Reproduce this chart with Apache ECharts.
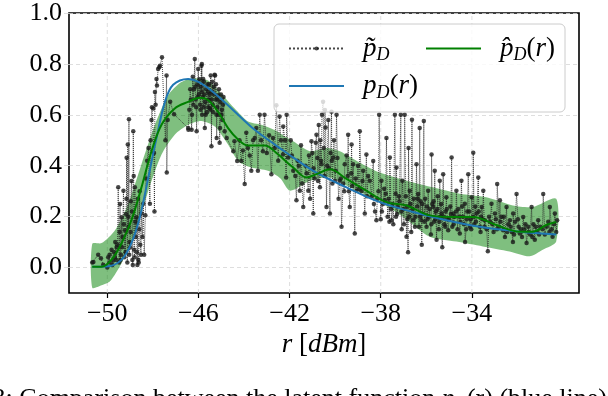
<!DOCTYPE html>
<html>
<head>
<meta charset="utf-8">
<script src="https://cdn.jsdelivr.net/npm/echarts@6/dist/echarts.min.js"></script>
<style>
  html, body { margin: 0; padding: 0; background: #fff; }
  #chart { width: 608px; height: 396px; }
</style>
</head>
<body>
<div id="chart"></div>
<script>
const SERIF = 'Liberation Serif';

// tick values
const xTicks = [-50, -46, -42, -38, -34];
const yTicks = [0, 0.2, 0.4, 0.6, 0.8, 1.0];

// noisy estimate p~_D ([r, value])
const ptsRise = [
  [-50.66, 0.02], [-50.61, 0.022], [-50.4, 0.05], [-50.28, 0.037], [-50.18, 0.011], [-50.0, 0.0],
  [-49.96, 0.04], [-49.9, 0.02], [-49.81, 0.07], [-49.74, 0.028], [-49.7, 0.06], [-49.65, 0.1],
  [-49.6, 0.03], [-49.55, 0.09], [-49.52, 0.315], [-49.48, 0.02], [-49.44, 0.25], [-49.4, 0.05],
  [-49.37, 0.198], [-49.33, 0.12], [-49.29, 0.302], [-49.25, 0.04], [-49.22, 0.147], [-49.18, 0.21],
  [-49.15, 0.431], [-49.12, 0.02], [-49.1, 0.483], [-49.07, 0.16], [-49.05, 0.583], [-49.02, 0.1],
  [-49.0, 0.079], [-48.97, 0.26], [-48.94, 0.34], [-48.9, 0.03], [-48.86, 0.535], [-48.82, 0.07],
  [-48.79, 0.315], [-48.75, 0.12], [-48.72, 0.198], [-48.68, 0.01], [-48.64, 0.031], [-48.6, 0.15],
  [-48.55, 0.09], [-48.5, 0.212], [-48.46, 0.12], [-48.42, 0.251], [-48.38, 0.05], [-48.33, 0.205],
  [-48.3, 0.35], [-48.25, 0.42], [-48.19, 0.47], [-48.13, 0.251], [-48.1, 0.5], [-48.06, 0.58],
  [-48.04, 0.63], [-47.98, 0.625], [-47.95, 0.45], [-47.93, 0.22], [-47.91, 0.69], [-47.88, 0.64],
  [-47.84, 0.741], [-47.82, 0.715], [-47.77, 0.78], [-47.72, 0.787], [-47.69, 0.793], [-47.6, 0.826],
  [-47.45, 0.5], [-47.4, 0.754], [-47.39, 0.373], [-47.35, 0.58], [-47.24, 0.651], [-47.07, 0.602]
];

const ptsPeak = [
  [-46.45, 0.548], [-46.44, 0.541], [-46.36, 0.7], [-46.3, 0.541], [-46.28, 0.6], [-46.25, 0.75],
  [-46.2, 0.7], [-46.16, 0.819], [-46.12, 0.66], [-46.08, 0.535], [-46.05, 0.72], [-46.01, 0.78],
  [-45.98, 0.68], [-45.93, 0.64], [-45.9, 0.71], [-45.87, 0.793], [-45.85, 0.8], [-45.84, 0.6],
  [-45.81, 0.67], [-45.79, 0.741], [-45.76, 0.73], [-45.72, 0.548], [-45.7, 0.65], [-45.66, 0.7],
  [-45.62, 0.61], [-45.58, 0.69], [-45.55, 0.66], [-45.53, 0.72], [-45.5, 0.625], [-45.47, 0.62],
  [-45.46, 0.754], [-45.43, 0.477], [-45.41, 0.69], [-45.37, 0.64], [-45.33, 0.71], [-45.29, 0.757],
  [-45.27, 0.754], [-45.25, 0.66], [-45.21, 0.6], [-45.2, 0.509], [-45.18, 0.63], [-45.14, 0.677],
  [-45.1, 0.7], [-45.07, 0.49], [-45.05, 0.548], [-45.03, 0.65], [-44.99, 0.6], [-44.95, 0.58],
  [-44.9, 0.67], [-44.85, 0.535], [-44.76, 0.509], [-44.47, 0.457], [-44.42, 0.496], [-44.3, 0.419],
  [-44.2, 0.5], [-44.12, 0.419], [-44.05, 0.46], [-43.97, 0.328], [-43.9, 0.53], [-43.83, 0.47],
  [-43.75, 0.44], [-43.68, 0.38], [-43.6, 0.5], [-43.53, 0.509], [-43.46, 0.548], [-43.39, 0.38],
  [-43.31, 0.6], [-43.25, 0.5], [-43.17, 0.457], [-43.1, 0.6], [-43.0, 0.45], [-42.9, 0.52],
  [-42.8, 0.367], [-42.73, 0.509], [-42.65, 0.47], [-42.58, 0.638], [-42.5, 0.42], [-42.44, 0.593],
  [-42.38, 0.5]
];

const ptsMid = [
  [-42.29, 0.444], [-42.28, 0.554], [-42.2, 0.5], [-42.15, 0.354], [-42.13, 0.6], [-42.06, 0.432],
  [-41.95, 0.5], [-41.84, 0.38], [-41.7, 0.264], [-41.65, 0.42], [-41.55, 0.302], [-41.5, 0.48],
  [-41.4, 0.238], [-41.3, 0.4], [-41.18, 0.302], [-41.1, 0.27], [-41.04, 0.496], [-41.0, 0.45],
  [-40.96, 0.212], [-40.9, 0.35], [-40.85, 0.49], [-40.82, 0.522], [-40.78, 0.43], [-40.72, 0.56],
  [-40.67, 0.315], [-40.65, 0.5], [-40.6, 0.406], [-40.58, 0.6], [-40.53, 0.651], [-40.5, 0.47],
  [-40.45, 0.619], [-40.42, 0.55], [-40.38, 0.238], [-40.35, 0.4], [-40.3, 0.58], [-40.23, 0.212],
  [-40.2, 0.45], [-40.16, 0.612], [-40.12, 0.33], [-40.09, 0.432], [-40.05, 0.5], [-40.01, 0.341],
  [-39.94, 0.6], [-39.9, 0.43], [-39.85, 0.27], [-39.8, 0.341], [-39.72, 0.16], [-39.65, 0.33],
  [-39.58, 0.406], [-39.5, 0.44], [-39.43, 0.522], [-39.4, 0.3], [-39.36, 0.238], [-39.3, 0.37],
  [-39.28, 0.483], [-39.21, 0.406], [-39.14, 0.134], [-39.06, 0.302], [-39.0, 0.4], [-38.92, 0.535],
  [-38.85, 0.3], [-38.77, 0.38], [-38.7, 0.212], [-38.63, 0.444], [-38.55, 0.36], [-38.48, 0.341]
];

const ptsTail = [
  [-38.4, 0.28], [-38.33, 0.419], [-38.25, 0.22], [-38.19, 0.186], [-38.1, 0.3], [-38.07, 0.6],
  [-38.0, 0.19], [-37.97, 0.341], [-37.9, 0.25], [-37.85, 0.31], [-37.82, 0.264], [-37.75, 0.509],
  [-37.7, 0.2], [-37.65, 0.27], [-37.6, 0.432], [-37.55, 0.23], [-37.53, 0.186], [-37.45, 0.17],
  [-37.38, 0.6], [-37.35, 0.29], [-37.31, 0.393], [-37.28, 0.21], [-37.24, 0.238], [-37.18, 0.26],
  [-37.12, 0.6], [-37.08, 0.15], [-37.05, 0.341], [-37.0, 0.23], [-36.95, 0.6], [-36.9, 0.28],
  [-36.87, 0.121], [-36.83, 0.19], [-36.8, 0.06], [-36.78, 0.47], [-36.73, 0.302], [-36.7, 0.25],
  [-36.66, 0.14], [-36.63, 0.581], [-36.58, 0.186], [-36.55, 0.27], [-36.47, 0.2], [-36.43, 0.406],
  [-36.4, 0.24], [-36.36, 0.289], [-36.32, 0.16], [-36.29, 0.548], [-36.25, 0.26], [-36.21, 0.186],
  [-36.2, 0.09], [-36.15, 0.21], [-36.11, 0.576], [-36.05, 0.27], [-35.99, 0.16], [-35.95, 0.19],
  [-35.92, 0.302], [-35.85, 0.23], [-35.8, 0.13], [-35.77, 0.444], [-35.74, 0.25], [-35.7, 0.238],
  [-35.66, 0.18], [-35.63, 0.38], [-35.58, 0.22], [-35.55, 0.109], [-35.5, 0.28], [-35.45, 0.15],
  [-35.41, 0.341], [-35.37, 0.2], [-35.33, 0.212], [-35.3, 0.08], [-35.26, 0.367], [-35.2, 0.17],
  [-35.15, 0.22], [-35.12, 0.276], [-35.08, 0.19], [-35.04, 0.147], [-34.95, 0.24], [-34.89, 0.432],
  [-34.86, 0.16], [-34.82, 0.212], [-34.75, 0.2], [-34.68, 0.302], [-34.6, 0.23], [-34.53, 0.134],
  [-34.5, 0.18], [-34.46, 0.341], [-34.4, 0.2], [-34.31, 0.251], [-34.3, 0.1], [-34.25, 0.15],
  [-34.2, 0.22], [-34.16, 0.367], [-34.09, 0.16], [-34.05, 0.19], [-34.01, 0.276], [-33.94, 0.451],
  [-33.9, 0.17], [-33.85, 0.24], [-33.79, 0.212], [-33.72, 0.354], [-33.65, 0.16], [-33.6, 0.2],
  [-33.57, 0.238], [-33.5, 0.302], [-33.43, 0.186], [-33.35, 0.15], [-33.3, 0.064], [-33.2, 0.18],
  [-33.14, 0.251], [-33.05, 0.14], [-32.99, 0.212], [-32.95, 0.19], [-32.89, 0.328], [-32.8, 0.16],
  [-32.77, 0.264], [-32.7, 0.2], [-32.63, 0.147], [-32.55, 0.12], [-32.48, 0.238], [-32.4, 0.17],
  [-32.33, 0.186], [-32.25, 0.14], [-32.2, 0.1], [-32.19, 0.212], [-32.1, 0.18], [-32.04, 0.289],
  [-31.95, 0.16], [-31.9, 0.134], [-31.8, 0.12], [-31.75, 0.199], [-31.7, 0.15], [-31.6, 0.096],
  [-31.53, 0.16], [-31.45, 0.13], [-31.38, 0.238], [-31.3, 0.17], [-31.24, 0.109], [-31.15, 0.14],
  [-31.09, 0.186], [-31.0, 0.16], [-30.87, 0.289], [-30.8, 0.13], [-30.72, 0.16], [-30.65, 0.18],
  [-30.58, 0.238], [-30.5, 0.15], [-30.46, 0.121], [-30.36, 0.212], [-30.3, 0.14], [-30.26, 0.186]
];

// the darker, denser parts of the cloud
const ptsDense = [
  [-49.9, 0.05], [-49.78, 0.01], [-49.68, 0.04], [-49.58, 0.08], [-49.46, 0.14], [-49.42, 0.03],
  [-49.35, 0.08], [-49.27, 0.17], [-49.2, 0.06], [-49.16, 0.27], [-49.08, 0.2], [-49.04, 0.05],
  [-48.98, 0.14], [-48.92, 0.22], [-48.88, 0.01], [-48.84, 0.36], [-48.8, 0.04], [-48.77, 0.18],
  [-48.7, 0.06], [-48.66, 0.27], [-48.62, 0.02], [-48.58, 0.3], [-48.52, 0.05],
  [-46.4, 0.62], [-46.33, 0.66], [-46.22, 0.64], [-46.14, 0.71], [-46.1, 0.63], [-46.03, 0.67],
  [-45.96, 0.74], [-45.91, 0.62], [-45.86, 0.69], [-45.78, 0.63], [-45.74, 0.68], [-45.68, 0.6],
  [-45.6, 0.72], [-45.56, 0.63], [-45.51, 0.68], [-45.44, 0.66], [-45.39, 0.73], [-45.35, 0.61],
  [-45.31, 0.68], [-45.23, 0.72], [-45.16, 0.66], [-45.12, 0.6], [-45.01, 0.68], [-44.97, 0.62],
  [-44.92, 0.64],
  [-41.9, 0.44], [-41.75, 0.36], [-41.6, 0.4], [-41.45, 0.33], [-41.25, 0.37], [-41.15, 0.44],
  [-40.95, 0.39], [-40.75, 0.34], [-40.62, 0.42], [-40.47, 0.36], [-40.27, 0.39], [-40.15, 0.42],
  [-39.98, 0.38], [-39.75, 0.35], [-39.6, 0.3], [-39.45, 0.36], [-39.25, 0.32], [-39.1, 0.35],
  [-38.95, 0.31], [-38.8, 0.34], [-38.6, 0.28],
  [-38.3, 0.25], [-38.15, 0.27], [-37.95, 0.22], [-37.78, 0.29], [-37.62, 0.18], [-37.48, 0.25],
  [-37.33, 0.2], [-37.2, 0.28], [-37.1, 0.22], [-36.98, 0.17], [-36.85, 0.24], [-36.75, 0.2],
  [-36.6, 0.23], [-36.5, 0.16], [-36.38, 0.27], [-36.27, 0.2], [-36.18, 0.25], [-36.08, 0.18],
  [-35.97, 0.24], [-35.88, 0.2], [-35.78, 0.17], [-35.68, 0.26], [-35.6, 0.19], [-35.52, 0.23],
  [-35.43, 0.18], [-35.35, 0.25], [-35.24, 0.2], [-35.17, 0.16], [-35.1, 0.23], [-35.0, 0.19],
  [-34.92, 0.21], [-34.8, 0.17], [-34.7, 0.22], [-34.63, 0.15], [-34.55, 0.2], [-34.43, 0.24],
  [-34.35, 0.17], [-34.22, 0.19], [-34.12, 0.22], [-34.03, 0.15], [-33.95, 0.2], [-33.82, 0.18],
  [-33.7, 0.22], [-33.62, 0.14], [-33.53, 0.19], [-33.45, 0.16], [-33.25, 0.2], [-33.1, 0.17],
  [-32.9, 0.15], [-32.75, 0.18], [-32.6, 0.2], [-32.45, 0.14], [-32.3, 0.16], [-32.15, 0.13],
  [-31.98, 0.19], [-31.85, 0.15], [-31.65, 0.17], [-31.5, 0.14], [-31.35, 0.12], [-31.2, 0.16],
  [-31.05, 0.13], [-30.9, 0.15], [-30.6, 0.14], [-30.4, 0.17]
];

// true latent function p_D(r) (blue)
const trueCurve = [
  [-50.66, 0.003], [-49.96, 0.005], [-49.37, 0.031], [-48.94, 0.096], [-48.57, 0.199], [-48.2, 0.354],
  [-47.84, 0.509], [-47.47, 0.651], [-47.11, 0.718], [-46.45, 0.741], [-46.0, 0.729], [-45.28, 0.684],
  [-44.4, 0.612], [-43.53, 0.541], [-42.65, 0.483], [-42.2, 0.455], [-40.96, 0.38], [-39.5, 0.315],
  [-38.04, 0.257], [-36.58, 0.218], [-35.12, 0.186], [-33.66, 0.16], [-31.91, 0.141], [-30.3, 0.13]
];

// GP posterior mean p^_D(r) (green)
const meanCurve = [
  [-50.66, 0.003], [-50.25, 0.003], [-49.81, 0.031], [-49.37, 0.096], [-48.94, 0.186], [-48.5, 0.315],
  [-48.06, 0.457], [-47.62, 0.561], [-47.04, 0.625], [-46.45, 0.651], [-45.94, 0.667], [-45.58, 0.658],
  [-45.14, 0.612], [-44.7, 0.548], [-44.26, 0.503], [-43.82, 0.479], [-43.09, 0.479], [-42.51, 0.445],
  [-42.07, 0.41], [-41.84, 0.393], [-41.26, 0.354], [-40.82, 0.367], [-40.23, 0.386], [-39.5, 0.348],
  [-38.63, 0.302], [-37.75, 0.257], [-36.87, 0.244], [-35.85, 0.205], [-34.83, 0.199], [-33.95, 0.199],
  [-32.93, 0.167], [-31.91, 0.141], [-31.33, 0.141], [-30.74, 0.167], [-30.3, 0.179]
];

// confidence band edges
const bandUpper = [
  [-50.66, 0.093], [-50.25, 0.096], [-49.66, 0.147], [-49.08, 0.251], [-48.5, 0.406], [-47.91, 0.561],
  [-47.33, 0.677], [-46.75, 0.729], [-46.16, 0.744], [-45.58, 0.735], [-45.0, 0.684], [-44.41, 0.625],
  [-43.82, 0.574], [-43.24, 0.561], [-42.65, 0.54], [-42.2, 0.515], [-41.84, 0.496], [-41.11, 0.457],
  [-40.38, 0.47], [-39.79, 0.457], [-38.92, 0.412], [-38.04, 0.373], [-36.87, 0.341], [-35.71, 0.315],
  [-34.54, 0.29], [-33.37, 0.276], [-32.2, 0.244], [-31.33, 0.238], [-30.3, 0.27]
];
const bandLower = [
  [-50.66, -0.079], [-50.25, -0.07], [-49.87, -0.053], [-49.37, 0.018], [-48.79, 0.134], [-48.2, 0.302],
  [-47.62, 0.444], [-47.04, 0.522], [-46.45, 0.561], [-45.87, 0.576], [-45.28, 0.554], [-44.7, 0.483],
  [-44.26, 0.419], [-43.68, 0.393], [-42.95, 0.38], [-42.4, 0.35], [-41.98, 0.302], [-41.1, 0.341],
  [-40.23, 0.354], [-39.35, 0.315], [-38.19, 0.264], [-37.02, 0.199], [-35.85, 0.121], [-34.68, 0.102],
  [-33.52, 0.083], [-32.35, 0.063], [-31.47, 0.044], [-30.89, 0.07], [-30.3, 0.102]
];

let noisy = ptsRise.concat(ptsPeak, ptsMid, ptsTail, ptsDense);
noisy.sort((a, b) => a[0] - b[0]);

const Y_MIN = -0.1;
const Y_MAX = 1.0;

const NAME_T = 'p\u0303_D';
const NAME_H = 'p\u0302_D(r)';
const NAME_P = 'p_D(r)';

const legendLabel = {};
legendLabel[NAME_T] = '{sp| }{i|p\u0303}{sub|D}';
legendLabel[NAME_H] = '{sp| }{i|p\u0302}{sub|D}{n|(}{i|r}{n|)}';
legendLabel[NAME_P] = '{sp| }{i|p}{sub|D}{n|(}{i|r}{n|)}';

const mathRich = {
  sp: { width: 14 },
  i: { fontFamily: SERIF, fontStyle: 'italic', fontSize: 27, color: '#000' },
  n: { fontFamily: SERIF, fontSize: 27, color: '#000' },
  sub: { fontFamily: SERIF, fontStyle: 'italic', fontSize: 18, color: '#000', padding: [14, 0, 0, 0] }
};

const legendCommon = {
  orient: 'vertical',
  itemWidth: 55,
  itemHeight: 5,
  itemGap: 8,
  z: 20,
  selectedMode: false,
  formatter: (name) => legendLabel[name],
  textStyle: { fontFamily: SERIF, fontSize: 27, color: '#000', rich: mathRich }
};

const gridStyle = { stroke: '#d6d6d6', lineWidth: 0.8, lineDash: [4, 3] };

let chart = echarts.init(document.getElementById('chart'));

let option = {
  animation: false,
  backgroundColor: '#fff',
  grid: {
    left: 69, right: 29, top: 11, bottom: 103,
    show: true, borderColor: '#000', borderWidth: 1.6, backgroundColor: 'transparent'
  },
  legend: [
    Object.assign({
      left: 283, top: 30,
      data: [NAME_T, { name: NAME_P, itemStyle: { opacity: 0 } }]
    }, legendCommon),
    Object.assign({
      left: 420, top: 30,
      data: [{ name: NAME_H, itemStyle: { opacity: 0 } }]
    }, legendCommon)
  ],
  xAxis: {
    type: 'value',
    min: -51.68,
    max: -29.3,
    name: '{it|r} {up|[}{it|dBm}{up|]}',
    nameLocation: 'middle',
    nameGap: 37,
    nameTextStyle: {
      fontFamily: SERIF, fontSize: 27, color: '#000',
      rich: {
        it: { fontFamily: SERIF, fontStyle: 'italic', fontSize: 27, color: '#000' },
        up: { fontFamily: SERIF, fontSize: 27, color: '#000' }
      }
    },
    axisLine: { show: false, onZero: false },
    axisTick: { show: true, length: 5, customValues: xTicks, lineStyle: { color: '#000', width: 1.2 } },
    axisLabel: {
      customValues: xTicks, margin: 8,
      fontFamily: SERIF, fontSize: 26, color: '#000',
      formatter: (v) => (v < 0 ? '\u2212' + Math.abs(v) : String(v))
    },
    splitLine: { show: false }
  },
  yAxis: {
    type: 'value',
    min: Y_MIN,
    max: Y_MAX,
    axisLine: { show: false, onZero: false },
    axisTick: { show: true, length: 5, customValues: yTicks, lineStyle: { color: '#d6d6d6', width: 0.8 } },
    axisLabel: {
      customValues: yTicks, margin: 7,
      fontFamily: SERIF, fontSize: 26, color: '#000',
      formatter: (v) => v.toFixed(1)
    },
    splitLine: { show: true, lineStyle: { color: '#d6d6d6', width: 0.8, type: [4, 3] } }
  },
  graphic: [
    {
      type: 'rect', z: 10,
      shape: { x: 274, y: 24, width: 291, height: 88, r: 5 },
      style: { fill: 'rgba(255,255,255,0.8)', stroke: '#cccccc', lineWidth: 1 }
    },
    {
      type: 'text', z: 10, right: 1, top: 386,
      style: {
        text: '3: Comparison between the latent function {i|p}{sub|D}{n|(r)} (blue line)',
        fontFamily: SERIF, fontSize: 26, fill: '#000',
        rich: {
          i: { fontFamily: SERIF, fontStyle: 'italic', fontSize: 26 },
          n: { fontFamily: SERIF, fontSize: 26 },
          sub: { fontFamily: SERIF, fontStyle: 'italic', fontSize: 17, padding: [12, 0, 0, 0] }
        }
      }
    }
  ],
  series: [
    {
      // vertical grid lines at the x ticks, then the confidence band
      type: 'custom',
      name: 'band',
      silent: true,
      z: 1,
      data: [bandUpper[0]],
      renderItem: function (params, api) {
        let children = [];
        xTicks.forEach((v) => {
          let a = api.coord([v, Y_MIN]);
          let b = api.coord([v, Y_MAX]);
          children.push({
            type: 'line',
            shape: { x1: a[0], y1: a[1], x2: b[0], y2: b[1] },
            style: gridStyle
          });
        });
        let pts = [];
        for (let i = 0; i < bandUpper.length; i++) pts.push(api.coord(bandUpper[i]));
        for (let i = bandLower.length - 1; i >= 0; i--) pts.push(api.coord(bandLower[i]));
        children.push({
          type: 'polygon',
          shape: { points: pts, smooth: 0.25 },
          style: { fill: 'rgba(0,128,0,0.5)', stroke: 'none' }
        });
        return { type: 'group', children: children };
      }
    },
    {
      type: 'line',
      name: NAME_T,
      z: 2,
      data: noisy,
      symbol: 'circle',
      symbolSize: 4.5,
      itemStyle: { color: 'rgba(25,25,25,0.8)' },
      lineStyle: { color: 'rgba(40,40,40,0.85)', width: 1, type: 'dotted' }
    },
    {
      type: 'line',
      name: NAME_P,
      z: 3,
      data: trueCurve,
      smooth: 0.35,
      symbol: 'none',
      itemStyle: { color: '#1f77b4' },
      lineStyle: { color: '#1f77b4', width: 2 }
    },
    {
      type: 'line',
      name: NAME_H,
      z: 4,
      data: meanCurve,
      smooth: 0.35,
      symbol: 'none',
      itemStyle: { color: '#008000' },
      lineStyle: { color: '#008000', width: 2 }
    }
  ]
};

chart.setOption(option);
</script>
</body>
</html>
